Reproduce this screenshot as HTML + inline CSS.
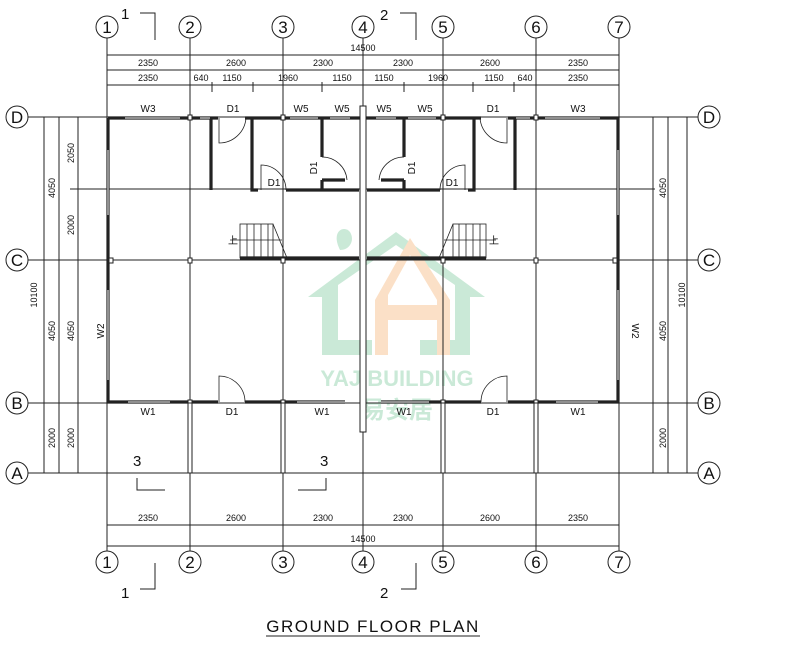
<!DOCTYPE html>
<html><head><meta charset="utf-8"><style>
html,body{margin:0;padding:0;background:#fff;}
svg{display:block;}
text{font-family:"Liberation Sans",sans-serif;fill:#111;}
.d{font-size:9px;text-anchor:middle;}
.g{fill:none;stroke:#222;stroke-width:1;}
.w{fill:none;stroke:#222;stroke-width:3.2;}
.wi{fill:none;stroke:#fff;stroke-width:1;}
.t{fill:none;stroke:#222;stroke-width:0.8;}
.ax{font-family:"Liberation Serif",serif;font-size:17px;text-anchor:middle;}
</style></head><body>
<svg width="791" height="649" viewBox="0 0 791 649" xmlns="http://www.w3.org/2000/svg">
<!-- watermark -->
<g opacity="0.55">
<path d="M308 297 L396 232 L485 297 L470 297 L470 355 L420 355 L420 340 L455 340 L455 285 L396 245 L338 285 L338 340 L372 340 L372 355 L322 355 L322 297 Z" fill="#9fd8b8"/>
<path d="M375 300 L410 238 L450 300 L450 355 L437 355 L437 320 L388 320 L388 355 L375 355 Z M388 305 L437 305 L437 300 L410 255 L388 295 Z" fill="#f8c89a"/>
<path d="M340 250 C330 230 345 225 350 232 C355 240 350 250 340 250 Z" fill="#9fd8b8"/>
<text x="397" y="386" font-size="22" font-weight="bold" text-anchor="middle" style="fill:#9fd8b8">YAJ BUILDING</text>
<text x="397" y="418" font-size="24" font-weight="bold" text-anchor="middle" style="fill:#9fd8b8;font-family:'Liberation Sans','Noto Sans CJK SC',sans-serif">易安居</text>
</g>
<!-- grid lines -->
<g class="g">
<line x1="107" y1="38" x2="107" y2="552"/><line x1="190" y1="38" x2="190" y2="552"/><line x1="283" y1="38" x2="283" y2="552"/><line x1="363" y1="38" x2="363" y2="552"/><line x1="443" y1="38" x2="443" y2="552"/><line x1="536" y1="38" x2="536" y2="552"/><line x1="619" y1="38" x2="619" y2="552"/>
<line x1="28" y1="117" x2="698" y2="117"/><line x1="28" y1="260" x2="698" y2="260"/><line x1="28" y1="403" x2="698" y2="403"/><line x1="28" y1="473" x2="698" y2="473"/>
<line x1="70" y1="189" x2="655" y2="189"/>
<!-- top dims -->
<line x1="107" y1="55" x2="619" y2="55"/><line x1="107" y1="70" x2="619" y2="70"/><line x1="107" y1="85" x2="619" y2="85"/>
<!-- bottom dims -->
<line x1="107" y1="525" x2="619" y2="525"/><line x1="107" y1="546" x2="619" y2="546"/>
<!-- left dims -->
<line x1="44" y1="117" x2="44" y2="473"/><line x1="59" y1="117" x2="59" y2="473"/><line x1="78" y1="117" x2="78" y2="473"/>
<line x1="653" y1="117" x2="653" y2="473"/><line x1="668" y1="117" x2="668" y2="473"/><line x1="687" y1="117" x2="687" y2="473"/>
<!-- sub-ticks -->
<line x1="212" y1="82" x2="212" y2="92"/><line x1="253" y1="82" x2="253" y2="92"/><line x1="322" y1="82" x2="322" y2="92"/><line x1="404" y1="82" x2="404" y2="92"/><line x1="473" y1="82" x2="473" y2="92"/><line x1="514" y1="82" x2="514" y2="92"/>
<!-- section marks -->
<polyline points="140,13 155,13 155,40"/><polyline points="400,13 416,13 416,40"/>
<polyline points="155,563 155,589 140,589"/><polyline points="416,563 416,589 401,589"/>
<polyline points="137,478 137,490 165,490"/><polyline points="326,478 326,490 298,490"/>
</g>
<!-- axis circles -->
<g fill="#fff" stroke="#222" stroke-width="1">
<circle cx="107" cy="27" r="11"/><circle cx="190" cy="27" r="11"/><circle cx="283" cy="27" r="11"/><circle cx="363" cy="27" r="11"/><circle cx="443" cy="27" r="11"/><circle cx="536" cy="27" r="11"/><circle cx="619" cy="27" r="11"/>
<circle cx="107" cy="562" r="11"/><circle cx="190" cy="562" r="11"/><circle cx="283" cy="562" r="11"/><circle cx="363" cy="562" r="11"/><circle cx="443" cy="562" r="11"/><circle cx="536" cy="562" r="11"/><circle cx="619" cy="562" r="11"/>
<circle cx="17" cy="117" r="11"/><circle cx="17" cy="260" r="11"/><circle cx="17" cy="403" r="11"/><circle cx="17" cy="473" r="11"/>
<circle cx="709" cy="117" r="11"/><circle cx="709" cy="260" r="11"/><circle cx="709" cy="403" r="11"/><circle cx="709" cy="473" r="11"/>
</g>
<g class="ax">
<text x="107" y="33">1</text><text x="190" y="33">2</text><text x="283" y="33">3</text><text x="363" y="33">4</text><text x="443" y="33">5</text><text x="536" y="33">6</text><text x="619" y="33">7</text>
<text x="107" y="568">1</text><text x="190" y="568">2</text><text x="283" y="568">3</text><text x="363" y="568">4</text><text x="443" y="568">5</text><text x="536" y="568">6</text><text x="619" y="568">7</text>
<text x="17" y="123">D</text><text x="17" y="266">C</text><text x="17" y="409">B</text><text x="17" y="479">A</text>
<text x="709" y="123">D</text><text x="709" y="266">C</text><text x="709" y="409">B</text><text x="709" y="479">A</text>
</g>
<g style="font-family:'Liberation Serif',serif;font-size:15px">
<text x="121" y="19">1</text><text x="380" y="20">2</text><text x="121" y="598">1</text><text x="380" y="598">2</text>
<text x="133" y="466">3</text><text x="320" y="466">3</text>
</g>
<!-- dimension text -->
<g class="d">
<text x="363" y="51">14500</text>
<text x="148" y="66">2350</text><text x="236" y="66">2600</text><text x="323" y="66">2300</text><text x="403" y="66">2300</text><text x="490" y="66">2600</text><text x="578" y="66">2350</text>
<text x="148" y="81">2350</text><text x="201" y="81">640</text><text x="232" y="81">1150</text><text x="288" y="81">1960</text><text x="342" y="81">1150</text><text x="384" y="81">1150</text><text x="438" y="81">1960</text><text x="494" y="81">1150</text><text x="525" y="81">640</text><text x="578" y="81">2350</text>
<text x="148" y="521">2350</text><text x="236" y="521">2600</text><text x="323" y="521">2300</text><text x="403" y="521">2300</text><text x="490" y="521">2600</text><text x="578" y="521">2350</text>
<text x="363" y="542">14500</text>
<text transform="translate(55,188) rotate(-90)">4050</text>
<text transform="translate(55,331) rotate(-90)">4050</text>
<text transform="translate(55,438) rotate(-90)">2000</text>
<text transform="translate(74,153) rotate(-90)">2050</text>
<text transform="translate(74,225) rotate(-90)">2000</text>
<text transform="translate(74,331) rotate(-90)">4050</text>
<text transform="translate(74,438) rotate(-90)">2000</text>
<text transform="translate(37,295) rotate(-90)">10100</text>
<text transform="translate(666,188) rotate(-90)">4050</text>
<text transform="translate(666,331) rotate(-90)">4050</text>
<text transform="translate(666,438) rotate(-90)">2000</text>
<text transform="translate(685,295) rotate(-90)">10100</text>
</g>
<!-- walls -->
<g class="w">
<path d="M108 118 L108 402 L218 402"/>
<path d="M245 402 L345 402"/><path d="M381 402 L481 402"/><path d="M508 402 L618 402 L618 118 L508 118"/>
<path d="M108 118 L218 118"/><path d="M245 118 L481 118"/>
<path d="M211 118 L211 190"/><path d="M252 118 L252 190 L258 190"/><path d="M286 190 L359 190"/>
<path d="M322 118 L322 157"/><path d="M322 180 L322 190"/><path d="M322 180 L345 180"/>
<path d="M515 118 L515 190"/><path d="M474 118 L474 190 L468 190"/><path d="M440 190 L367 190"/>
<path d="M404 118 L404 157"/><path d="M404 180 L404 190"/><path d="M404 180 L381 180"/>
<path d="M240 258 L359 258"/><path d="M367 258 L486 258"/>
</g>
<g class="wi">
<path d="M125 118 L180 118 M200 118 L210 118 M290 118 L318 118 M330 118 L350 118 M376 118 L396 118 M408 118 L436 118 M516 118 L530 118 M545 118 L600 118"/>
<path d="M108 150 L108 215 M108 290 L108 380 M618 150 L618 215 M618 290 L618 380"/>
<path d="M128 402 L170 402 M297 402 L345 402 M381 402 L429 402 M556 402 L598 402"/>
</g>
<!-- center wall -->
<rect x="360" y="106" width="6" height="326" fill="#fff" stroke="#222" stroke-width="1"/>
<!-- columns -->
<g fill="#fff" stroke="#222" stroke-width="1">
<rect x="188" y="115" width="4" height="5"/><rect x="281" y="115" width="4" height="5"/><rect x="441" y="115" width="4" height="5"/><rect x="534" y="115" width="4" height="5"/>
<rect x="109" y="258" width="4" height="5"/><rect x="188" y="258" width="4" height="5"/><rect x="281" y="258" width="4" height="5"/><rect x="441" y="258" width="4" height="5"/><rect x="534" y="258" width="4" height="5"/><rect x="613" y="258" width="4" height="5"/>
<rect x="188" y="400" width="4" height="5"/><rect x="281" y="400" width="4" height="5"/><rect x="441" y="400" width="4" height="5"/><rect x="534" y="400" width="4" height="5"/>
<rect x="188" y="403" width="4" height="70"/><rect x="281" y="403" width="4" height="70"/><rect x="441" y="403" width="4" height="70"/><rect x="534" y="403" width="4" height="70"/>
</g>
<!-- doors -->
<g class="t">
<path d="M219 118 L219 143 A27 27 0 0 0 246 118"/>
<path d="M507 118 L507 143 A27 27 0 0 1 480 118"/>
<path d="M261 190 L261 165 A25 25 0 0 1 286 190"/>
<path d="M465 190 L465 165 A25 25 0 0 0 440 190"/>
<path d="M322 157 A25 25 0 0 1 347 180"/>
<path d="M404 157 A25 25 0 0 0 379 180"/>
<path d="M219 402 L219 376 A26 26 0 0 1 245 402"/>
<path d="M507 402 L507 376 A26 26 0 0 0 481 402"/>
</g>
<!-- stairs -->
<g class="t">
<rect x="240" y="224" width="33" height="34"/>
<line x1="247" y1="224" x2="247" y2="258"/><line x1="254" y1="224" x2="254" y2="258"/><line x1="261" y1="224" x2="261" y2="258"/><line x1="268" y1="224" x2="268" y2="258"/>
<line x1="273" y1="224" x2="287" y2="258"/><line x1="230" y1="240" x2="282" y2="240"/>
<rect x="453" y="224" width="33" height="34"/>
<line x1="459" y1="224" x2="459" y2="258"/><line x1="466" y1="224" x2="466" y2="258"/><line x1="473" y1="224" x2="473" y2="258"/><line x1="480" y1="224" x2="480" y2="258"/>
<line x1="453" y1="224" x2="439" y2="258"/><line x1="444" y1="240" x2="496" y2="240"/>
</g>
<!-- labels -->
<g style="font-size:10px;text-anchor:middle">
<text x="148" y="112">W3</text><text x="233" y="112">D1</text><text x="301" y="112">W5</text><text x="342" y="112">W5</text><text x="384" y="112">W5</text><text x="425" y="112">W5</text><text x="493" y="112">D1</text><text x="578" y="112">W3</text>
<text x="274" y="186">D1</text><text x="452" y="186">D1</text>
<text transform="translate(317,168) rotate(-90)">D1</text><text transform="translate(415,168) rotate(-90)">D1</text>
<text transform="translate(104,331) rotate(-90)">W2</text><text transform="translate(632,331) rotate(90)">W2</text>
<text x="148" y="415">W1</text><text x="232" y="415">D1</text><text x="322" y="415">W1</text><text x="404" y="415">W1</text><text x="493" y="415">D1</text><text x="578" y="415">W1</text>
<text x="233" y="244">上</text><text x="494" y="244">上</text>
</g>
<text x="373" y="632" text-anchor="middle" style="font-size:17px;letter-spacing:1.5px">GROUND FLOOR PLAN</text>
<line x1="266" y1="636" x2="480" y2="636" stroke="#222" stroke-width="1"/>
</svg>
</body></html>
